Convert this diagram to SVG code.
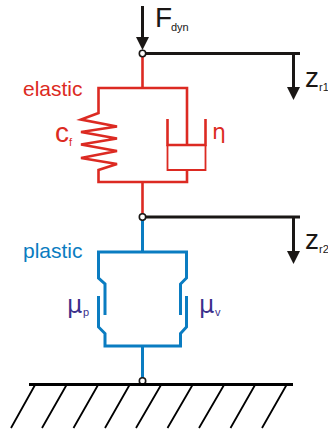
<svg xmlns="http://www.w3.org/2000/svg" width="328" height="430" viewBox="0 0 328 430">
<style>
text{font-family:"Liberation Sans",Arial,sans-serif}
.k{fill:none;stroke:#1a1715;stroke-width:3}
.r{fill:none;stroke:#dc2a22;stroke-width:2.6}
.rt{fill:none;stroke:#dc2a22;stroke-width:1.8}
.b{fill:none;stroke:#0a7cc1;stroke-width:3}
.h{fill:none;stroke:#000;stroke-width:1.8}
.n{fill:#fff;stroke:#1a1715;stroke-width:1.6}
.a{fill:#1a1715}
.red{fill:#dc2a22}.blue{fill:#0a7cc1}.pur{fill:#3b2f8c}.blk{fill:#1a1715}
</style>
<g id="connectors">
<path class="k" d="M142.500 6V38"/><polygon class="a" points="136,37 149,37 142.500,50"/>
<path class="k" d="M146 53.500H300M293.500 53.500V88"/><polygon class="a" points="287,87 300,87 293.500,100"/>
<path class="r" d="M142.500 56V88M142.500 182V214"/>
<path class="k" d="M146 217H300M293.500 217V252"/><polygon class="a" points="287,251 300,251 293.500,264"/>
<path class="b" d="M142.500 220V252M142.500 346V378"/>
</g>
<g id="force"><text x="155" y="27" font-size="28" class="blk">F</text><text x="171" y="31" font-size="11" class="blk">dyn</text></g>
<g id="z1"><text x="305" y="87" font-size="28" class="blk">z</text><text x="319" y="91" font-size="11" class="blk">r1</text></g>
<g id="z2"><text x="305" y="249" font-size="28" class="blk">z</text><text x="319" y="253" font-size="11" class="blk">r2</text></g>
<g id="elastic">
<text x="23" y="96" font-size="21" class="red">elastic</text>
<path class="r" d="M187 145V88H98.500V113L81 119.500L117 126.500L81 132L117 138.500L81 144.500L117 151L81 158L117 164L98.500 170V182H187V170"/>
<path class="r" d="M167.500 119V145H205.500V119"/>
<path class="rt" d="M167.500 145V170H205.500V145"/>
<text x="55" y="142" font-size="28" class="red">c</text><text x="69" y="146" font-size="11" class="red">f</text>
<text x="212" y="139" font-size="22" class="red" style="font-family:'DejaVu Sans',sans-serif">η</text>
</g>
<g id="plastic">
<text x="23" y="258" font-size="21" class="blue">plastic</text>
<path class="b" d="M105 315V284L98.500 278V252H186.500V278L180.500 284V315"/>
<path class="b" d="M98.500 296V327L105 333.500V346H180.500V333.500L186.500 327V296"/>
<text x="67" y="313" font-size="24" class="pur" style="font-family:'DejaVu Sans',sans-serif">μ</text><text x="83" y="316" font-size="11" class="pur">p</text>
<text x="199" y="313" font-size="24" class="pur" style="font-family:'DejaVu Sans',sans-serif">μ</text><text x="215" y="316" font-size="11" class="pur">v</text>
</g>
<g id="ground">
<circle class="n" cx="142.500" cy="381" r="3.200"/>
<path d="M29 384.500H293" fill="none" stroke="#000" stroke-width="3"/>
<path class="h" d="M35 385L11 428M66.500 385L42 428M98 385L73.500 428M129.500 385L105 428M161 385L136 428M192.500 385L167.500 428M224 385L199 428M255 385L230.500 428M286.500 385L262 428"/>
</g>
<g id="node-top"><circle class="n" cx="142.500" cy="53.500" r="3.200"/></g>
<g id="node-mid"><circle class="n" cx="142.500" cy="217" r="3.200"/></g>
</svg>
